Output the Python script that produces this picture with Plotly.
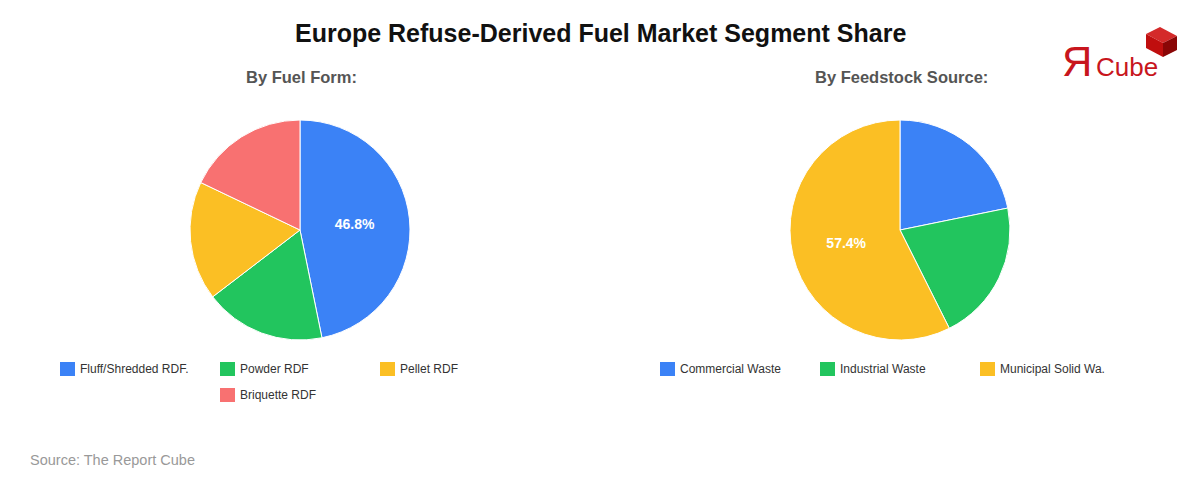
import plotly.graph_objects as go

W, H = 1200, 480

title_text = "Europe Refuse-Derived Fuel Market Segment Share"
subtitle_left = "By Fuel Form:"
subtitle_right = "By Feedstock Source:"
source_text = "Source: The Report Cube"

fuel_form_labels = ["Fluff/Shredded RDF.", "Powder RDF", "Pellet RDF", "Briquette RDF"]
fuel_form_values = [46.8, 17.8, 17.5, 17.9]
fuel_form_colors = ["#3B82F6", "#22C55E", "#FBBF24", "#F87171"]

feedstock_labels = ["Commercial Waste", "Industrial Waste", "Municipal Solid Wa."]
feedstock_values = [21.8, 20.8, 57.4]
feedstock_colors = ["#3B82F6", "#22C55E", "#FBBF24"]

FONT = "Liberation Sans, Arial, sans-serif"


def px(x):
    return x / W


def py(y):
    return 1 - y / H


def pie_domain(cx, cy, r):
    return dict(x=[px(cx - r), px(cx + r)], y=[py(cy + r), py(cy - r)])


def big_only(values):
    m = max(values)
    return [f"{v:.1f}%" if v == m else "" for v in values]


fig = go.Figure()
fig.add_trace(go.Pie(
    labels=fuel_form_labels, values=fuel_form_values, sort=False,
    direction="clockwise", rotation=0,
    marker=dict(colors=fuel_form_colors, line=dict(color="white", width=1)),
    text=big_only(fuel_form_values), textinfo="text", textposition="inside",
    insidetextorientation="horizontal",
    textfont=dict(family=FONT, size=14, color="white", weight="bold"),
    domain=pie_domain(300, 230, 110), showlegend=False, hoverinfo="label+percent",
))
fig.add_trace(go.Pie(
    labels=feedstock_labels, values=feedstock_values, sort=False,
    direction="clockwise", rotation=0,
    marker=dict(colors=feedstock_colors, line=dict(color="white", width=1)),
    text=big_only(feedstock_values), textinfo="text", textposition="inside",
    insidetextorientation="horizontal",
    textfont=dict(family=FONT, size=14, color="white", weight="bold"),
    domain=pie_domain(900, 230, 110), showlegend=False, hoverinfo="label+percent",
))

annotations = []
shapes = []

annotations.append(dict(text=f"<b>{title_text}</b>", x=px(600), y=py(33), xref="paper", yref="paper",
                        showarrow=False, xanchor="center", yanchor="middle",
                        font=dict(family=FONT, size=25, color="#111111")))
annotations.append(dict(text=f"<b>{subtitle_left}</b>", x=px(301), y=py(77), xref="paper", yref="paper",
                        showarrow=False, xanchor="center", yanchor="middle",
                        font=dict(family=FONT, size=16.5, color="#555555")))
annotations.append(dict(text=f"<b>{subtitle_right}</b>", x=px(901), y=py(77), xref="paper", yref="paper",
                        showarrow=False, xanchor="center", yanchor="middle",
                        font=dict(family=FONT, size=16.5, color="#555555")))
annotations.append(dict(text=source_text, x=px(28), y=py(460), xref="paper", yref="paper",
                        showarrow=False, xanchor="left", yanchor="middle",
                        font=dict(family=FONT, size=14.5, color="#999999")))


def legend(labels, colors, x0, positions):
    for (lab, col, (cx, cy)) in zip(labels, colors, positions):
        X = x0 + cx
        shapes.append(dict(type="rect", xref="paper", yref="paper",
                           x0=px(X), x1=px(X + 15), y0=py(cy + 7), y1=py(cy - 7),
                           fillcolor=col, line=dict(width=0)))
        annotations.append(dict(text=lab, x=px(X + 18), y=py(cy), xref="paper", yref="paper",
                                showarrow=False, xanchor="left", yanchor="middle",
                                font=dict(family=FONT, size=12, color="#333333")))


legend(fuel_form_labels, fuel_form_colors, 60, [(0, 369), (160, 369), (320, 369), (160, 395)])
legend(feedstock_labels, feedstock_colors, 660, [(0, 369), (160, 369), (320, 369)])

# logo
annotations.append(dict(text="Я", x=px(1060), y=py(61), xref="paper", yref="paper", showarrow=False,
                        xanchor="left", yanchor="middle",
                        font=dict(family=FONT, size=42, color="#C8161D")))
annotations.append(dict(text="Cube", x=px(1094), y=py(67), xref="paper", yref="paper", showarrow=False,
                        xanchor="left", yanchor="middle",
                        font=dict(family=FONT, size=26, color="#C8161D")))


def path(pts):
    return "M " + " L ".join(f"{px(x)},{py(y)}" for x, y in pts) + " Z"


shapes.append(dict(type="path", xref="paper", yref="paper",
                   path=path([(1160, 27), (1177, 36), (1163, 43), (1146, 34)]),
                   fillcolor="#D42A2A", line=dict(width=0)))
shapes.append(dict(type="path", xref="paper", yref="paper",
                   path=path([(1146, 34), (1163, 43), (1163, 57), (1146, 48)]),
                   fillcolor="#C00E0E", line=dict(width=0)))
shapes.append(dict(type="path", xref="paper", yref="paper",
                   path=path([(1163, 43), (1177, 36), (1177, 50), (1163, 57)]),
                   fillcolor="#8A0606", line=dict(width=0)))

fig.update_layout(
    width=W, height=H, margin=dict(l=0, r=0, t=0, b=0),
    paper_bgcolor="white", plot_bgcolor="white",
    annotations=annotations, shapes=shapes, showlegend=False,
    font=dict(family=FONT),
)

fig.write_html("out.html")
